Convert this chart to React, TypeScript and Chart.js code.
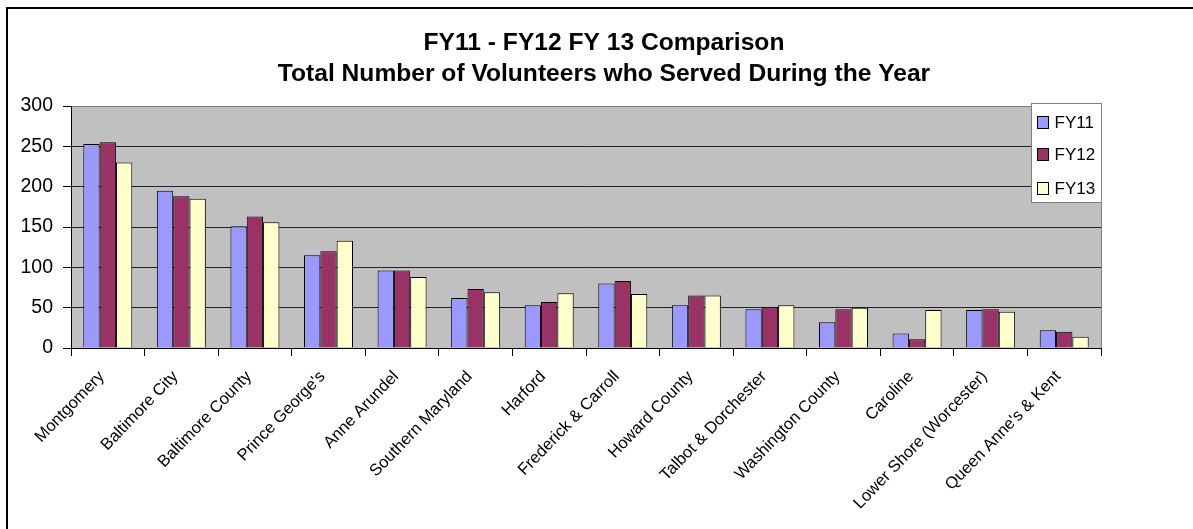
import React, { useEffect, useRef } from "react";
import { Chart, registerables } from "chart.js";

Chart.register(...registerables);

const categories = [
  "Montgomery",
  "Baltimore City",
  "Baltimore County",
  "Prince George's",
  "Anne Arundel",
  "Southern Maryland",
  "Harford",
  "Frederick & Carroll",
  "Howard County",
  "Talbot & Dorchester",
  "Washington County",
  "Caroline",
  "Lower Shore (Worcester)",
  "Queen Anne's & Kent",
];

const fy11 = [253, 195, 151, 115, 96, 62, 53, 80, 53, 48, 32, 18, 47, 22];
const fy12 = [255, 188, 163, 120, 96, 73, 57, 83, 65, 51, 48, 11, 48, 20];
const fy13 = [230, 185, 156, 133, 88, 69, 68, 67, 65, 53, 50, 47, 45, 14];

const seriesLabels = ["FY11", "FY12", "FY13"];
const seriesColors = ["#9999FF", "#993366", "#FFFFCC"];

const titleLines = [
  "FY11 - FY12 FY 13 Comparison",
  "Total Number of Volunteers who Served During the Year",
];

const yMin = 0;
const yMax = 300;
const yStep = 50;

const FONT = "'Liberation Sans', Arial, sans-serif";

const plotPlugin = {
  id: "plotDecor",
  beforeDraw(chart: any) {
    const { ctx, chartArea } = chart;
    ctx.save();
    ctx.fillStyle = "#C0C0C0";
    ctx.fillRect(
      chartArea.left,
      chartArea.top,
      chartArea.right - chartArea.left,
      chartArea.bottom - chartArea.top
    );
    ctx.restore();
  },
  afterDraw(chart: any) {
    const { ctx, chartArea } = chart;
    ctx.save();
    // right border of plot area
    ctx.strokeStyle = "#808080";
    ctx.lineWidth = 1;
    ctx.beginPath();
    ctx.moveTo(chartArea.right + 0.5, chartArea.top);
    ctx.lineTo(chartArea.right + 0.5, chartArea.bottom);
    ctx.stroke();

    // legend overlay
    const bw = 70;
    const bx = chartArea.right - bw + 0.5;
    const by = chartArea.top - 3 + 0.5;
    const bh = 99;
    ctx.fillStyle = "#FFFFFF";
    ctx.fillRect(bx, by, bw, bh);
    ctx.strokeStyle = "#808080";
    ctx.strokeRect(bx, by, bw, bh);
    const rows = [19, 51, 85];
    chart.data.datasets.forEach((ds: any, i: number) => {
      const cy = by + rows[i];
      ctx.fillStyle = ds.backgroundColor;
      ctx.fillRect(bx + 6, cy - 6, 11, 12);
      ctx.strokeStyle = "#000";
      ctx.strokeRect(bx + 6, cy - 6, 11, 12);
      ctx.fillStyle = "#000";
      ctx.font = `17px ${FONT}`;
      ctx.textBaseline = "middle";
      ctx.textAlign = "left";
      ctx.fillText(ds.label, bx + 23, cy + 1);
    });
    ctx.restore();
  },
};

export default function App() {
  const ref = useRef<HTMLCanvasElement | null>(null);

  useEffect(() => {
    if (!ref.current) return;
    const chart = new Chart(ref.current, {
      type: "bar",
      data: {
        labels: categories,
        datasets: [fy11, fy12, fy13].map((d, i) => ({
          label: seriesLabels[i],
          data: d,
          backgroundColor: seriesColors[i],
          borderColor: "#000000",
          borderWidth: 1,
          categoryPercentage: 0.666,
          barPercentage: 1,
        })),
      },
      options: {
        animation: false,
        responsive: false,
        maintainAspectRatio: false,
        layout: { padding: 0 },
        plugins: {
          legend: { display: false },
          tooltip: { enabled: false },
          title: {
            display: true,
            text: titleLines,
            color: "#000",
            font: { family: FONT, size: 24.6, weight: "bold", lineHeight: 1.25 },
            padding: { top: 18.6, bottom: 16.9 },
          },
        },
        scales: {
          x: {
            offset: true,
            grid: {
              display: true,
              offset: true,
              drawOnChartArea: false,
              drawTicks: true,
              tickLength: 8,
              tickColor: "#000",
              color: "#000",
            },
            border: { display: true, color: "#000", width: 1 },
            ticks: {
              autoSkip: false,
              maxRotation: 46,
              minRotation: 46,
              padding: 11,
              labelOffset: -6,
              color: "#000",
              font: { family: FONT, size: 16.5 },
            },
            afterFit(scale: any) {
              scale.height = 181;
            },
          },
          y: {
            min: yMin,
            max: yMax,
            ticks: {
              stepSize: yStep,
              padding: 10,
              color: "#000",
              font: { family: FONT, size: 19.5 },
            },
            grid: {
              color: (c: any) => (c.tick && c.tick.value === yMax ? "#808080" : "#222"),
              tickColor: "#000",
              tickLength: 8,
              lineWidth: 1,
            },
            border: { display: true, color: "#000", width: 1 },
            afterFit(scale: any) {
              scale.width = 62;
            },
          },
          y2: {
            position: "right",
            display: true,
            grid: { display: false, drawTicks: false },
            ticks: { display: false },
            border: { display: false },
            afterFit(scale: any) {
              scale.width = 98;
            },
          },
        },
      },
      plugins: [plotPlugin],
    } as any);
    return () => chart.destroy();
  }, []);

  return (
    <div
      style={{
        position: "fixed",
        left: 0,
        top: 0,
        width: 1193,
        height: 529,
        overflow: "hidden",
        background: "#fff",
      }}
    >
      <div
        style={{
          position: "absolute",
          left: 6,
          top: 7,
          width: 1300,
          height: 700,
          borderLeft: "2px solid #000",
          borderTop: "2px solid #000",
        }}
      />
      <div style={{ position: "absolute", left: 9, top: 9, width: 1190, height: 520 }}>
        <canvas ref={ref} width={1190} height={520} style={{ width: 1190, height: 520 }} />
      </div>
    </div>
  );
}
